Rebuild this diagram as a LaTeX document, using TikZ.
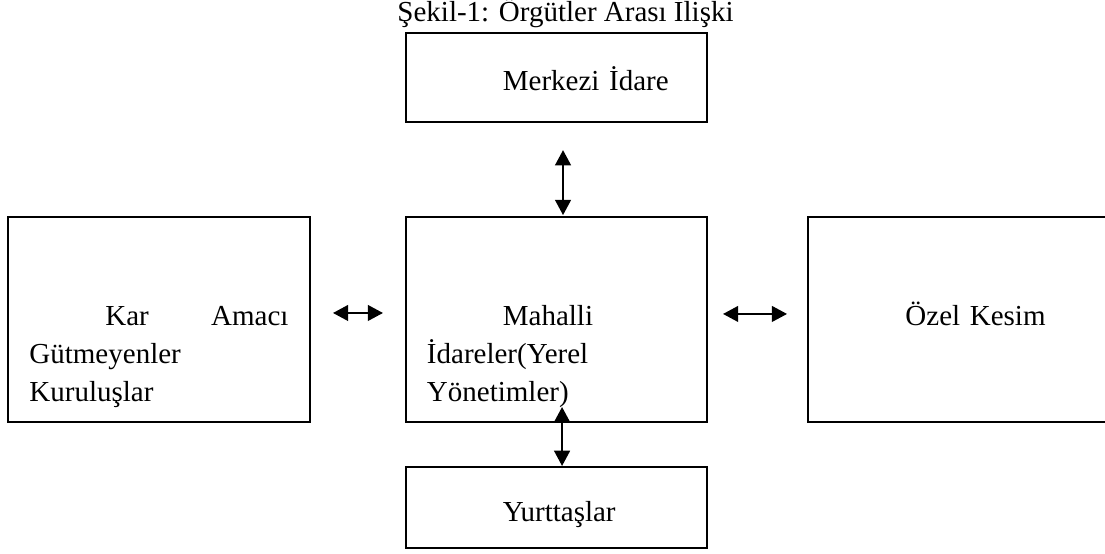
\documentclass[tikz,border=0pt]{standalone}
\usepackage{fontspec}
\setmainfont{Liberation Serif}
\usetikzlibrary{arrows.meta,positioning}
\tikzset{
  every node/.style={font=\fontsize{12pt}{15.9pt}\selectfont},
  box/.style={draw=black, line width=0.75pt, outer sep=0pt, minimum width=124.6pt, inner xsep=8.7pt, inner ysep=2pt, text width=107.2pt, align=left, text depth=0pt},
  widebox/.style={box, minimum width=125pt},
  title/.style={font=\fontsize{12pt}{14pt}\selectfont, anchor=base},
  arrow/.style={{Triangle[length=6.3pt,width=6.5pt]}-{Triangle[length=6.3pt,width=6.5pt]}, line width=0.9pt, draw=black},
}
\newcommand{\ind}{\hspace*{31.4pt}}

\begin{document}
\begin{tikzpicture}[x=0.4138pt, y=-0.4138pt]
\useasboundingbox (0,0) rectangle (1105,553);
\node[title] (title) at (565.5,21) {Şekil-1: Örgütler Arası İlişki};
\node[box, minimum height=84.8pt, text height=4.6pt] (mahalli) at (556.5,319.5) {\ind Mahalli\\İdareler(Yerel\\Yönetimler)};
\node[box, minimum height=36.8pt, text height=10.4pt, above=39.3pt of mahalli] (merkezi) {\ind Merkezi İdare};
\node[widebox, minimum height=84.8pt, text height=4.6pt, left=39.7pt of mahalli] (kurulus) {\ind Kar\hfill Amacı\\Gütmeyenler\\Kuruluşlar};
\node[widebox, minimum height=84.8pt, text height=4.6pt, right=41.8pt of mahalli] (ozel) {\ind Özel Kesim};
\node[box, minimum height=33.5pt, text height=12pt, below=18.6pt of mahalli] (yurt) {\ind Yurttaşlar};
\draw[arrow] ([xshift=2.7pt,yshift=-11.6pt]merkezi.south) -- ([xshift=2.7pt,yshift=0.8pt]mahalli.north);
\draw[arrow] ([xshift=9.5pt,yshift=2.7pt]kurulus.east) -- ([xshift=-9.5pt,yshift=2.7pt]mahalli.west);
\draw[arrow] ([xshift=6.6pt,yshift=2.3pt]mahalli.east) -- ([xshift=-8.7pt,yshift=2.3pt]ozel.west);
\draw[arrow] ([xshift=2.3pt,yshift=6.2pt]mahalli.south) -- ([xshift=2.3pt,yshift=0.4pt]yurt.north);
\end{tikzpicture}
\end{document}
